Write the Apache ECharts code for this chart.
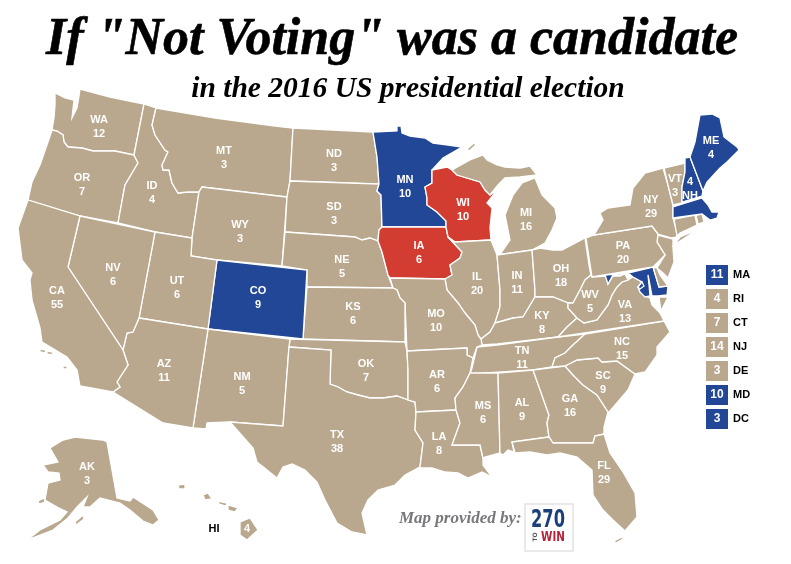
<!DOCTYPE html>
<html>
<head>
<meta charset="utf-8">
<style>html,body{margin:0;padding:0;background:#fff}#c{width:791px;height:564px}</style>
<script src="https://cdn.jsdelivr.net/npm/echarts@6/dist/echarts.min.js"></script>
</head>
<body>
<div id="c"></div>
<script>
const stateCodes = ["AL","AK","AZ","AR","CA","CO","CT","DE","DC","FL","GA","HI","ID","IL","IN","IA","KS","KY","LA","ME","MD","MA","MI","MN","MS","MO","MT","NE","NV","NH","NJ","NM","NY","NC","ND","OH","OK","OR","PA","RI","SC","SD","TN","TX","UT","VT","VA","WA","WV","WI","WY"];
const electoralVotes = [9,3,11,6,55,9,7,3,3,29,16,4,4,20,11,6,6,8,8,4,10,11,16,10,6,10,3,5,6,4,14,5,29,15,3,18,7,7,20,4,9,3,11,38,6,3,13,12,5,10,3];
const blueStates = ["CO","DC","MA","MD","ME","MN","NH"];
const redStates = ["IA","WI"];
const sideStates = ["MA","RI","CT","NJ","DE","MD","DC"];
const titleText = 'If "Not Voting" was a candidate';
const subtitleText = "in the 2016 US presidential election";
const creditText = "Map provided by:";

const TAN = "#B9A88D", BLUE = "#224796", RED = "#D33C30";

// State outlines and label anchors, in picture pixels
const shapes = {
WA:["55,93 65,98 74,100 72,118 77,108 79,96 80,89 110,97 144,104 134,155 115,151 93,151 82,148 68,147 64,142 63,135 57,131 52,130 54,118 55,105"],
OR:["52,130 57,131 63,135 64,142 68,147 82,148 93,151 115,151 134,155 138,163 125,185 118,223 80,216 28,200 32,182 40,165 48,142"],
ID:["144,104 156,108 152,125 155,135 165,150 168,152 162,165 163,170 169,170 172,183 178,193 188,192 199,192 192,238 155,232 118,223 125,185 138,163 134,155"],
MT:["156,108 215,118 275,126 293,128 290,181 287,197 202,187 199,192 188,192 178,193 172,183 169,170 163,170 162,165 168,152 165,150 155,135 152,125"],
WY:["202,187 287,197 282,266 217,260 191,256 192,238 199,192"],
ND:["293,128 373,132 377,157 379,184 290,181"],
SD:["290,181 379,184 377,191 381,195 382,227 379,230 378,241 370,238 362,240 355,237 285,232 287,197"],
NE:["285,232 355,237 362,240 370,238 378,241 382,252 388,275 393,288 307,287 307,270 282,266"],
MN:["373,132 397,131 397,126 401,126 402,133 410,136 425,138 433,143 448,145 462,147 443,158 432,170 432,183 425,187 427,198 427,205 437,212 446,221 446,227 382,227 381,195 377,191 379,184 377,157"],
IA:["382,227 446,227 448,237 462,252 460,258 450,265 452,275 445,279 390,278 388,275 382,252 378,241 379,230"],
WI:["432,170 447,167 452,170 457,175 480,182 485,190 490,195 497,190 487,203 492,208 490,228 491,240 455,242 448,237 446,227 446,221 437,212 427,205 427,198 425,187 432,183"],
MI:["452,170 470,160 483,155 487,160 497,165 505,167 520,168 530,166 537,175 520,177 505,178 498,185 490,195 485,190 480,182 457,175","497,255 501,253 510,240 505,215 513,195 522,183 535,178 542,195 555,208 557,218 552,230 545,243 532,250","467,149 474,143 476,145 469,151"],
IL:["455,242 491,240 497,255 500,290 500,307 495,323 490,332 481,339 478,335 475,325 465,313 458,303 447,290 445,279 452,275 450,265 460,258 462,252 448,237"],
IN:["497,255 532,250 535,290 535,297 523,317 513,318 495,323 500,307 500,290"],
OH:["532,250 540,248 553,250 562,250 585,238 589,265 591,275 585,280 580,290 573,303 568,303 553,297 543,297 535,297 535,290"],
KY:["535,297 553,297 568,303 568,308 577,318 567,327 558,337 497,344 482,345 481,339 490,332 495,323 513,318 523,317"],
TN:["477,347 497,345 558,337 585,334 573,345 565,353 555,358 552,367 533,370 470,374 472,368"],
MO:["390,278 445,279 447,290 458,303 465,313 475,325 478,335 481,339 482,345 477,347 473,358 467,355 467,348 407,351 405,303 400,298 397,290 393,288"],
KS:["307,287 393,288 397,290 400,298 405,303 405,342 303,339"],
CO:["217,260 307,270 303,339 208,329"],
OK:["290,339 405,342 407,351 408,370 408,400 397,396 383,398 370,398 358,395 347,392 338,387 330,384 331,350 289,347"],
NM:["208,329 290,339 289,347 283,426 230,422 207,423 206,429 193,428"],
TX:["289,347 331,350 330,384 338,387 347,392 358,395 370,398 383,398 397,396 408,400 415,402 416,412 415,430 423,443 420,467 405,475 395,485 378,490 368,500 362,513 367,535 352,532 337,523 325,500 317,482 305,470 292,464 283,467 277,478 257,462 253,448 230,422 283,426"],
UT:["155,232 192,238 191,256 217,260 208,329 139,318"],
AZ:["139,318 208,329 193,428 163,423 113,392 120,387 117,382 128,365 123,350 127,333 133,332"],
NV:["80,216 155,232 139,318 133,332 127,333 123,350 68,267"],
CA:["28,200 80,216 68,267 123,350 128,365 117,382 120,387 113,392 80,386 77,370 67,357 42,342 40,328 32,300 30,280 32,273 22,260 18,228","40,349 46,350 45,353 40,352","47,351 53,352 52,355 47,354","63,366 67,366 67,369 63,369"],
AR:["407,351 467,348 467,355 473,358 470,373 463,387 455,398 456,410 416,412 415,402 408,400 408,370"],
LA:["416,412 456,410 460,423 452,445 480,445 483,458 483,465 492,477 482,472 468,478 458,473 445,472 432,468 418,468 420,467 423,443 415,430"],
MS:["470,373 498,373 500,453 485,457 483,458 480,445 452,445 460,423 456,410 455,398 463,387"],
AL:["498,373 533,370 549,415 547,423 549,437 512,442 514,452 508,450 503,455 500,453"],
GA:["533,370 565,366 573,375 583,385 597,395 608,412 604,427 604,434 595,436 593,443 553,443 549,437 547,423 549,415"],
FL:["512,442 549,437 553,443 593,443 595,436 604,434 610,453 623,472 635,493 637,517 625,531 613,520 603,510 593,495 592,470 577,457 560,453 547,455 530,452 515,453","614,541 622,537 623,539 616,543"],
SC:["565,366 577,360 598,358 602,362 617,361 635,374 628,390 610,411 608,412 597,395 583,385 573,375"],
NC:["585,334 664,321 670,332 657,347 657,355 645,372 635,374 617,361 602,362 598,358 577,360 565,366 552,367 555,358 565,353 573,345"],
VA:["558,337 567,327 577,318 584,323 597,320 608,305 612,295 617,287 622,282 628,280 633,277 642,282 638,287 640,292 645,296 650,298 652,305 660,313 664,321","668,297 659,297 661,311"],
WV:["590,268 592,277 606,276 608,284 613,276 620,276 625,274 628,280 622,282 617,287 612,295 608,305 597,320 584,323 577,318 568,308 568,303 573,303 580,290 585,280 591,275"],
MD:["605,275 625,273 620,275 613,275 608,284","628,273 653,267 659,287 668,286 667,295 658,296 652,296 650,285 648,275 649,285 650,296 645,297 640,292 638,287 642,282 633,277"],
DC:["638,287 642,282 644,286 640,289"],
DE:["653,267 657,268 660,275 668,286 659,287"],
NJ:["658,235 673,239 673,248 674,262 668,278 663,273 657,268 665,255 657,242"],
PA:["586,238 594,235 652,226 658,234 657,242 665,255 653,267 592,277"],
NY:["663,168 668,185 673,205 673,218 677,233 677,237 672,238 658,234 652,226 594,235 603,220 600,213 608,208 630,205 633,188 645,173","674,245 697,230 680,237"],
CT:["674,219 695,215 697,225 680,233 677,236"],
RI:["696,215 702,214 704,222 698,224"],
MA:["673,207 702,198 708,205 712,212 719,212 717,218 710,220 702,214 673,218"],
VT:["664,168 685,163 685,172 682,187 682,203 673,205 668,185"],
NH:["685,158 690,157 703,191 702,196 682,202 682,187 685,172"],
ME:["700,115 712,114 720,118 724,137 737,147 739,150 727,162 720,168 707,182 703,191 690,157 695,142"],
AK:["63,440 75,437 103,440 107,442 117,498 130,501 133,497 153,510 159,520 153,525 143,521 130,510 120,503 100,498 90,507 83,507 87,497 77,507 68,518 53,530 27,540 40,530 60,520 67,512 57,507 45,500 48,483 60,480 59,473 48,472 43,465 58,462 50,448","75,522 83,515 84,519 76,525","38,501 44,498 45,502 39,504"],
HI:["240,522 250,518 258,530 247,540 240,535","228,505 238,508 235,512 228,510","218,501 227,503 226,506 219,504","203,495 208,493 212,499 205,500","178,485 185,484 185,489 179,489"]
};
const anchors = {WA:[99,127],OR:[82,185],ID:[152,193],MT:[224,158],WY:[240,232],ND:[334,161],SD:[334,214],MN:[405,187],WI:[463,210],MI:[526,220],IA:[419,253],NE:[342,267],KS:[353,314],CO:[258,298],NV:[113,275],UT:[177,288],CA:[57,298],AZ:[164,371],NM:[242,384],OK:[366,371],TX:[337,442],AR:[437,382],LA:[439,444],MS:[483,413],AL:[522,410],TN:[522,358],KY:[542,323],IN:[517,283],IL:[477,284],MO:[436,321],OH:[561,276],WV:[590,302],VA:[625,312],NC:[622,349],SC:[603,383],GA:[570,406],FL:[604,473],PA:[623,253],NY:[651,207],VT:[675,186],NH:[690,189],ME:[711,148],AK:[87,474],HI:[247,529],MA:[695,208],RI:[700,219],CT:[685,225],NJ:[667,255],DE:[660,280],MD:[645,280],DC:[640,286]};

const geo = {type:"FeatureCollection",features:Object.keys(shapes).map(k=>({
  type:"Feature",
  properties:{name:k,cp:[anchors[k][0],-anchors[k][1]]},
  geometry:{type:"MultiPolygon",coordinates:shapes[k].map(s=>{
    const r=s.split(" ").map(p=>{const a=p.split(",");return [+a[0],-a[1]];});
    r.push(r[0]);return [r];
  })}
}))};
echarts.registerMap("usa",geo);

const votesOf = c => electoralVotes[stateCodes.indexOf(c)];
const colorOf = c => blueStates.includes(c)?BLUE:redStates.includes(c)?RED:TAN;
const labelFont = {color:"#fff",fontFamily:"Liberation Sans",fontWeight:"bold",fontSize:11,lineHeight:14};
const logoFont = (size,color)=>({fill:color,fontFamily:"DejaVu Sans",fontWeight:"bold",fontSize:size,textAlign:"center",textVerticalAlign:"middle"});

const chart = echarts.init(document.getElementById("c"),null,{renderer:"canvas"});
chart.setOption({
  animation:false,
  backgroundColor:"#fff",
  title:[
    {text:titleText,left:387,textAlign:"center",top:10,textStyle:{fontFamily:"Liberation Serif",fontStyle:"italic",fontWeight:"bold",fontSize:52,color:"#000",textBorderColor:"#000",textBorderWidth:0.6}},
    {text:subtitleText,left:403,textAlign:"center",top:69,textStyle:{fontFamily:"Liberation Serif",fontStyle:"italic",fontWeight:"bold",fontSize:29.5,color:"#000"}},
    {text:creditText,left:394,top:505,textStyle:{fontFamily:"Liberation Serif",fontStyle:"italic",fontWeight:"bold",fontSize:17,color:"#77777c"}}
  ],
  grid:{left:706,width:22,top:263,height:168},
  xAxis:{type:"category",data:["votes"],show:false},
  yAxis:{type:"category",data:sideStates,inverse:true,position:"right",
    axisLine:{show:false},axisTick:{show:false},splitLine:{show:false},
    axisLabel:{color:"#000",fontFamily:"Liberation Sans",fontWeight:"bold",fontSize:11,margin:5}},
  series:[
    {type:"map",map:"usa",left:0,top:0,width:791,height:564,aspectScale:1,
     boundingCoords:[[0,0],[791,-564]],roam:false,silent:true,selectedMode:false,
     itemStyle:{borderColor:"#fff",borderWidth:1.3,areaColor:TAN},
     emphasis:{disabled:true},
     label:{show:true,...labelFont,formatter:p=>{
        if(sideStates.includes(p.name)) return "";
        if(p.name==="NH") return p.value+"\n"+p.name;
        if(p.name==="HI") return String(p.value);
        return p.name+"\n"+p.value;
     }},
     data:stateCodes.map(c=>({name:c,value:votesOf(c),itemStyle:{areaColor:colorOf(c)}}))
    },
    {type:"scatter",symbol:"rect",symbolSize:[22,20],silent:true,
     data:sideStates.map(c=>({value:["votes",c,votesOf(c)],itemStyle:{color:colorOf(c),opacity:1}})),
     label:{show:true,position:"inside",color:"#fff",fontFamily:"Liberation Sans",fontWeight:"bold",fontSize:12,
       formatter:p=>String(p.value[2])}
    }
  ],
  graphic:[
    {type:"text",x:214,y:529,style:{text:"HI",fill:"#000",fontFamily:"Liberation Sans",fontWeight:"bold",fontSize:11,textAlign:"center",textVerticalAlign:"middle"}},
    {type:"rect",shape:{x:525,y:504,width:48,height:47},style:{fill:"#fff",stroke:"#e2e2e2",lineWidth:1.5}},
    {type:"text",x:548,y:520,scaleX:0.65,style:{text:"270",...logoFont(25,"#1c3f7c")}},
    {type:"text",x:553,y:537,scaleX:0.74,style:{text:"WIN",...logoFont(14,"#b3263a")}},
    {type:"text",x:535,y:537,rotation:Math.PI/2,style:{text:"TO",...logoFont(6,"#555")}}
  ]
});
</script>
</body>
</html>
